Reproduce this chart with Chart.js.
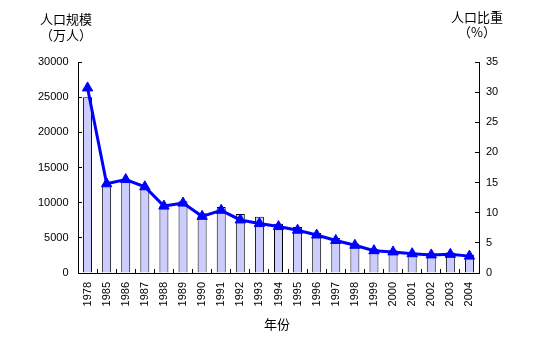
<!DOCTYPE html>
<html>
<head>
<meta charset="utf-8">
<script src="https://cdn.jsdelivr.net/npm/chart.js@4"></script>
<style>
    body { margin: 0; background: #fff; }
    #wrap { width: 539px; height: 351px; }
</style>
</head>
<body>
<div id="wrap"><canvas id="chart" width="539" height="351"></canvas></div>
<script>
const years = ['1978', '1985', '1986', '1987', '1988', '1989', '1990', '1991', '1992', '1993', '1994',
    '1995', '1996', '1997', '1998', '1999', '2000', '2001', '2002', '2003', '2004'];
// 人口规模 (万人)
const poorPop = [25000, 12500, 13100, 12200, 9600, 10200, 8500, 9400, 8400, 8000, 7000,
    6540, 5700, 4962, 4210, 3412, 3209, 2927, 2820, 2900, 2610];
// 人口比重 (%)
const poorShare = [30.7, 14.8, 15.5, 14.3, 11.1, 11.6, 9.4, 10.4, 8.8, 8.2, 7.7,
    7.1, 6.3, 5.4, 4.6, 3.7, 3.5, 3.2, 3.0, 3.1, 2.8];
const leftTicks = [0, 5000, 10000, 15000, 20000, 25000, 30000];
const rightTicks = [0, 5, 10, 15, 20, 25, 30, 35];

const tickFont = { family: '"Liberation Sans", Arial, sans-serif', size: 11 };
const cjkFont = '13px "Noto Sans CJK SC", sans-serif';

const axisTitles = {
    id: 'axisTitles',
    afterDraw(chart) {
        const ctx = chart.ctx;
        ctx.save();
        ctx.fillStyle = '#000';
        ctx.font = cjkFont;
        ctx.textAlign = 'center';
        ctx.textBaseline = 'middle';
        ctx.fillText('人口规模', 66, 19);
        ctx.fillText('（万人）', 66, 35);
        ctx.fillText('人口比重', 477, 17);
        ctx.fillText('（%）', 477, 32);
        ctx.fillText('年份', 277, 324);
        ctx.restore();
    }
};

function buildChart() {
    const chartCtx = document.getElementById('chart').getContext('2d');

    new Chart(chartCtx, {
        type: 'bar',
        data: {
            labels: years,
            datasets: [{
                type: 'line',
                label: '人口比重',
                data: poorShare,
                yAxisID: 'y1',
                borderColor: '#0000FF',
                backgroundColor: '#0000FF',
                borderWidth: 3,
                pointStyle: 'triangle',
                pointRadius: 6,
                pointBackgroundColor: '#0000FF',
                pointBorderColor: '#0000FF',
                pointBorderWidth: 1,
                tension: 0,
                order: 1
            }, {
                label: '人口规模',
                data: poorPop,
                yAxisID: 'y',
                backgroundColor: '#CCCCFF',
                borderColor: '#000000',
                borderWidth: 1,
                barPercentage: 0.47,
                categoryPercentage: 1,
                order: 2
            }]
        },
        options: {
            responsive: false,
            animation: false,
            layout: { padding: { top: 62, left: 0, right: 0, bottom: 0 } },
            plugins: {
                legend: { display: false },
                tooltip: { enabled: false }
            },
            scales: {
                x: {
                    grid: { drawOnChartArea: false, color: '#000', tickLength: -4, offset: true },
                    border: { color: '#000', width: 1 },
                    ticks: {
                        color: '#000', font: tickFont, minRotation: 90, maxRotation: 90,
                        padding: 13, autoSkip: false
                    },
                    afterFit: s => { s.height = 78; }
                },
                y: {
                    position: 'left',
                    min: 0,
                    max: 30000,
                    afterBuildTicks: s => { s.ticks = leftTicks.map(v => ({ value: v })); },
                    grid: { drawOnChartArea: false, color: '#000', tickLength: -4 },
                    border: { color: '#000', width: 1 },
                    ticks: { color: '#000', font: tickFont, padding: 13.5, callback: v => String(v) },
                    afterFit: s => { s.width = 78; }
                },
                y1: {
                    position: 'right',
                    min: 0,
                    max: 35,
                    afterBuildTicks: s => { s.ticks = rightTicks.map(v => ({ value: v })); },
                    grid: { drawOnChartArea: false, color: '#000', tickLength: -4 },
                    border: { color: '#000', width: 1 },
                    ticks: { color: '#000', font: tickFont, padding: 11, callback: v => String(v) },
                    afterFit: s => { s.width = 60; }
                }
            }
        },
        plugins: [axisTitles]
    });
}

buildChart();
</script>
</body>
</html>
